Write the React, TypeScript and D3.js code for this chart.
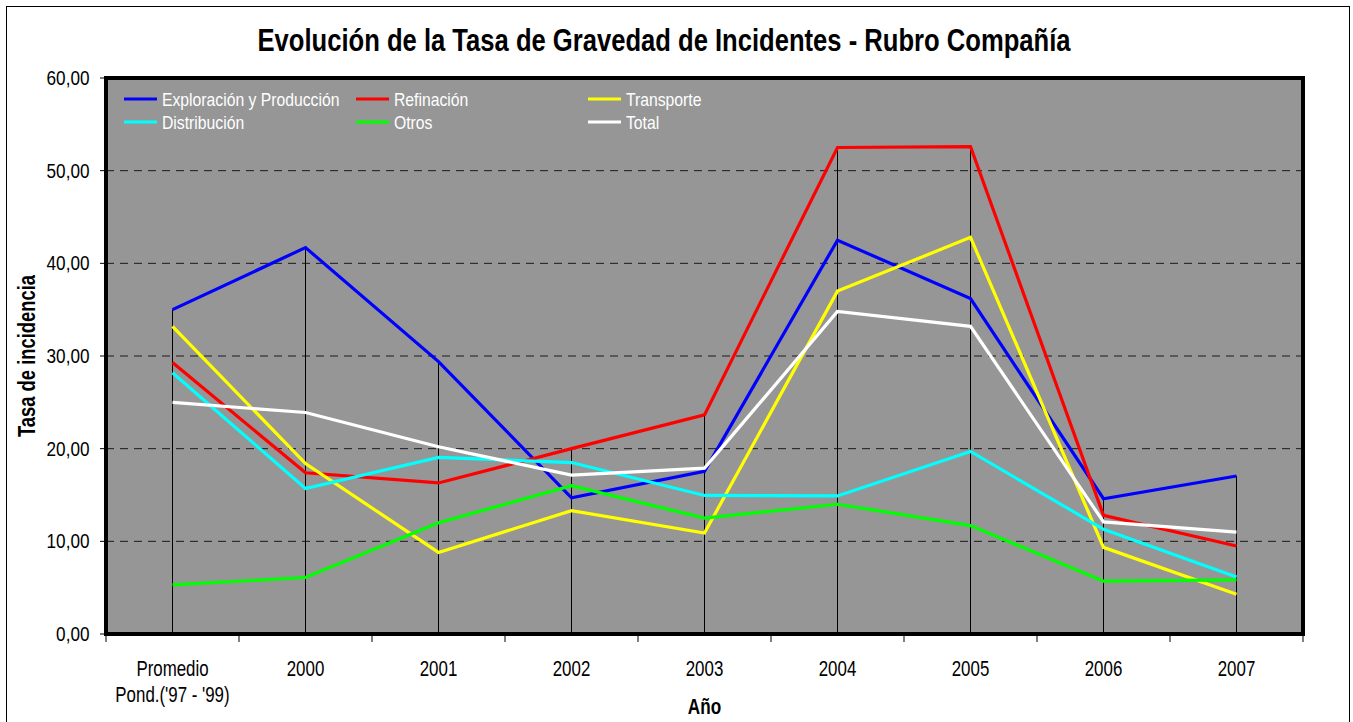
import React, { useEffect, useRef } from "react";
import * as d3 from "d3";

// categories on the x axis
const years = ["Promedio\nPond.('97 - '99)", "2000", "2001", "2002", "2003", "2004", "2005", "2006", "2007"];

// series values
const exploracion = [35.0, 41.7, 29.4, 14.7, 17.55, 42.5, 36.2, 14.6, 17.05];
const refinacion = [29.3, 17.4, 16.3, 20.0, 23.65, 52.5, 52.6, 12.8, 9.5];
const transporte = [33.2, 18.4, 8.8, 13.3, 10.9, 37.0, 42.8, 9.35, 4.3];
const distribucion = [28.2, 15.7, 19.05, 18.5, 14.95, 14.9, 19.7, 11.3, 6.15];
const otros = [5.3, 6.1, 12.0, 16.0, 12.5, 14.0, 11.7, 5.7, 5.85];
const total = [25.0, 23.9, 20.2, 17.15, 17.9, 34.8, 33.2, 12.1, 11.0];

const yTicks = [0, 10, 20, 30, 40, 50, 60];

const seriesNames = ["Exploración y Producción", "Refinación", "Transporte", "Distribución", "Otros", "Total"];
const seriesColors = ["#0000ff", "#ff0000", "#ffff00", "#00ffff", "#00ff00", "#ffffff"];

const FONT = "'Liberation Sans', Arial, sans-serif";

// narrow-looking text: draw at a larger size and squeeze horizontally
function narrowText(parent: any, x: number, y: number, str: string, size: number, sx: number, opts: any = {}) {
  const g = parent.append("g")
    .attr("transform", `translate(${x}, ${y})${opts.rotate ? ` rotate(${opts.rotate})` : ""} scale(${sx}, 1)`);
  return g.append("text")
    .attr("x", 0).attr("y", 0)
    .attr("text-anchor", opts.anchor || "start")
    .attr("font-size", size)
    .attr("font-weight", opts.bold ? "bold" : "normal")
    .attr("fill", opts.fill || "#000")
    .text(str);
}

function App() {
  const ref = useRef<SVGSVGElement>(null);

  useEffect(() => {
    const svgWidth = 1353, svgHeight = 722;
    const margin = { top: 78, right: 50, bottom: 88, left: 106 };
    const width = svgWidth - margin.left - margin.right;
    const height = svgHeight - margin.top - margin.bottom;

    const svg = d3.select(ref.current);
    svg.selectAll("*").remove();
    svg.attr("width", svgWidth).attr("height", svgHeight).style("font-family", FONT);

    // outer chart border
    svg.append("rect")
      .attr("x", 6.5).attr("y", 6.5)
      .attr("width", 1343).attr("height", 730)
      .attr("fill", "#fff").attr("stroke", "#000").attr("stroke-width", 1);

    narrowText(svg, 664, 51, "Evolución de la Tasa de Gravedad de Incidentes - Rubro Compañía", 32, 0.8,
      { anchor: "middle", bold: true });

    const chart = svg.append("g").attr("transform", `translate(${margin.left}, ${margin.top})`);

    const xScale = d3.scaleBand().domain(years).range([0, width]);
    const yScale = d3.scaleLinear().domain([0, 60]).range([height, 0]);
    const cx = (d: string) => (xScale(d) as number) + xScale.bandwidth() / 2;

    chart.append("rect")
      .attr("width", width).attr("height", height)
      .attr("fill", "#969696");

    // dashed gridlines
    chart.selectAll(".grid")
      .data(yTicks.filter(t => t > 0 && t < 60))
      .join("line")
      .attr("x1", 0).attr("x2", width)
      .attr("y1", d => yScale(d)).attr("y2", d => yScale(d))
      .attr("stroke", "#1a1a1a").attr("stroke-width", 1)
      .attr("stroke-dasharray", "8,6");

    const allSeries = [exploracion, refinacion, transporte, distribucion, otros, total];

    // drop lines from highest value
    chart.selectAll(".drop")
      .data(years)
      .join("line")
      .attr("x1", d => cx(d)).attr("x2", d => cx(d))
      .attr("y1", (d, i) => yScale(d3.max(allSeries, s => s[i]) as number))
      .attr("y2", height)
      .attr("stroke", "#000").attr("stroke-width", 1);

    const line = d3.line<number>()
      .x((d, i) => cx(years[i]))
      .y(d => yScale(d));

    chart.selectAll(".series")
      .data(allSeries)
      .join("path")
      .attr("d", d => line(d))
      .attr("fill", "none")
      .attr("stroke", (d, i) => seriesColors[i])
      .attr("stroke-width", 3.2)
      .attr("stroke-linejoin", "miter");

    // plot frame
    chart.append("rect")
      .attr("width", width).attr("height", height)
      .attr("fill", "none").attr("stroke", "#000").attr("stroke-width", 4);

    // y axis ticks and labels
    yTicks.forEach(t => {
      chart.append("line")
        .attr("x1", -6).attr("x2", 0)
        .attr("y1", yScale(t)).attr("y2", yScale(t))
        .attr("stroke", "#000");
      narrowText(chart, -16.5, yScale(t) + 7, d3.format(".2f")(t).replace(".", ","), 19.5, 0.88, { anchor: "end" });
    });

    // x axis ticks at category boundaries
    const bounds = years.map(d => xScale(d) as number).concat([width]);
    chart.selectAll(".xtick")
      .data(bounds)
      .join("line")
      .attr("x1", d => d).attr("x2", d => d)
      .attr("y1", height).attr("y2", height + 8)
      .attr("stroke", "#000");

    years.forEach(d => {
      d.split("\n").forEach((l, j) => {
        narrowText(chart, cx(d), height + 42 + j * 25.5, l, 22.5, 0.75, { anchor: "middle" });
      });
    });

    narrowText(chart, width / 2, height + 80, "Año", 22, 0.78, { anchor: "middle", bold: true });

    narrowText(svg, 35, 356, "Tasa de incidencia", 23, 0.8, { anchor: "middle", bold: true, rotate: -90 });

    // legend
    const legend = svg.append("g").attr("transform", "translate(124, 99)");
    seriesNames.forEach((name, i) => {
      const col = i % 3, row = Math.floor(i / 3);
      const g = legend.append("g").attr("transform", `translate(${col * 232}, ${row * 23})`);
      g.append("line")
        .attr("x1", 0).attr("x2", 33).attr("y1", 0).attr("y2", 0)
        .attr("stroke", seriesColors[i]).attr("stroke-width", 3.2);
      narrowText(g, 38, 7, name, 17.5, 0.9, { fill: "#fff" });
    });
  }, []);

  return (
    <div>
      <svg ref={ref} style={{ position: "absolute", left: 0, top: 0 }}></svg>
    </div>
  );
}

export default App;
